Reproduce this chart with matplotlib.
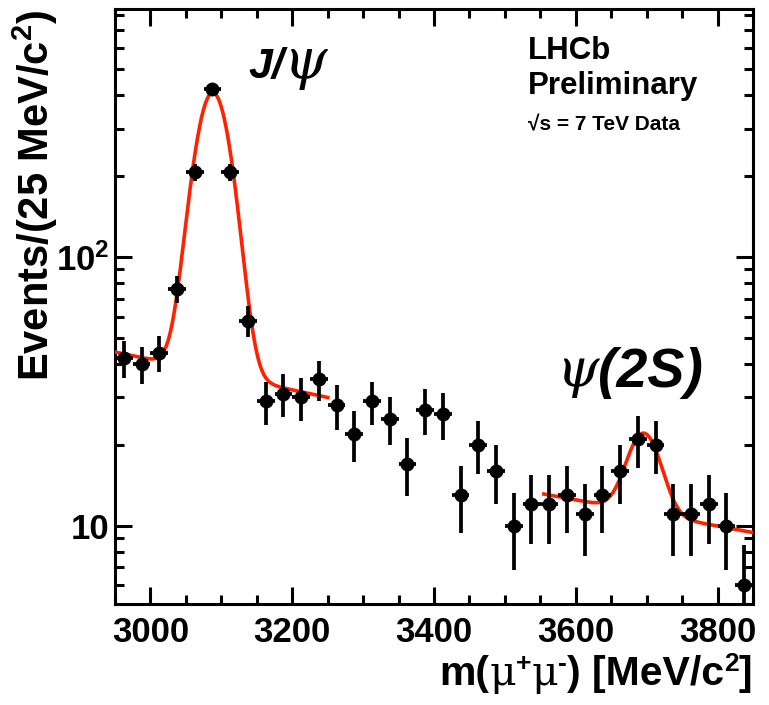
import numpy as np
import matplotlib
matplotlib.use("Agg")
import matplotlib.pyplot as plt
from matplotlib.ticker import MultipleLocator, FixedLocator, NullFormatter

plt.rcParams['font.family'] = ['Liberation Sans', 'DejaVu Sans']
plt.rcParams['font.weight'] = 'bold'
plt.rcParams['mathtext.fontset'] = 'custom'
plt.rcParams['mathtext.rm'] = 'Liberation Sans:bold'
plt.rcParams['mathtext.it'] = 'Liberation Sans:bold:italic'
plt.rcParams['mathtext.bf'] = 'Liberation Sans:bold:italic'
plt.rcParams['mathtext.default'] = 'rm'

# ---- data: dimuon mass histogram, 25 MeV bins from 2950 to 3850 ----
bin_low = 2950.0
bin_width = 25.0
counts = [42, 40, 44, 76, 207, 423, 207, 58,
          29, 31, 30, 35, 28, 22, 29, 25, 17, 27, 26,
          13, 20, 16, 10, 12, 12, 13, 11, 13, 16, 21, 20,
          11, 11, 12, 10, 6]

# ---- fit models (Gaussian + exponential background) ----
jpsi_range = (2950, 3250)
jpsi_bg0, jpsi_slope = 44.3, -0.0013
jpsi_amp, jpsi_mean, jpsi_sigma = 373.0, 3088.0, 23.0

psi2s_range = (3555, 3850)
psi2s_bg0, psi2s_slope = 13.1, -0.00112
psi2s_amp, psi2s_mean, psi2s_sigma = 10.9, 3696.0, 22.0

x_ticks = [3000, 3200, 3400, 3600, 3800]
y_ticks = [10, 100]
y_ticklabels = ['10', r'$10^{2}$']


def model(x, x0, bg0, slope, amp, mean, sigma):
    return bg0 * np.exp(slope * (x - x0)) + amp * np.exp(-0.5 * ((x - mean) / sigma) ** 2)


counts = np.array(counts, dtype=float)
centers = bin_low + bin_width * (np.arange(len(counts)) + 0.5)
yerr = np.sqrt(counts)

W, H = 769, 705
fig = plt.figure(figsize=(W / 100, H / 100), dpi=100)
ax = fig.add_axes([115 / W, 101 / H, 638 / W, 595 / H])
renderer = fig.canvas.get_renderer()

red = '#ff2200'
xj = np.linspace(*jpsi_range, 600)
ax.plot(xj, model(xj, jpsi_range[0], jpsi_bg0, jpsi_slope, jpsi_amp, jpsi_mean, jpsi_sigma),
        color=red, lw=2.6, zorder=3)
xp = np.linspace(*psi2s_range, 600)
ax.plot(xp, model(xp, psi2s_range[0], psi2s_bg0, psi2s_slope, psi2s_amp, psi2s_mean, psi2s_sigma),
        color=red, lw=2.6, zorder=3)

ax.errorbar(centers, counts, yerr=yerr, xerr=bin_width / 2, fmt='o', color='black',
            ms=9, elinewidth=2.7, capsize=0, zorder=4)

ax.set_yscale('log')
ax.set_xlim(2950, 3850)
ax.set_ylim(5.1, 840)

ax.xaxis.set_major_locator(FixedLocator(x_ticks))
ax.xaxis.set_minor_locator(MultipleLocator(50))
ax.set_xticklabels([str(t) for t in x_ticks])
ax.yaxis.set_major_locator(FixedLocator(y_ticks))
ax.set_yticklabels(y_ticklabels)
ax.yaxis.set_minor_locator(FixedLocator([6, 7, 8, 9, 20, 30, 40, 50, 60, 70, 80, 90,
                                         200, 300, 400, 500, 600, 700, 800]))
ax.yaxis.set_minor_formatter(NullFormatter())

ax.tick_params(which='both', direction='in', top=True, right=True, width=2.2)
ax.tick_params(which='major', length=12.5, labelsize=25)
ax.tick_params(which='minor', length=6.5)
ax.tick_params(axis='x', which='major', pad=9)
ax.tick_params(axis='y', which='major', pad=4)
for lab in ax.get_xticklabels() + ax.get_yticklabels():
    lab.set_fontweight('bold')
for s in ax.spines.values():
    s.set_linewidth(2.2)

fig.text(35 / W, 1 - 9 / H, r'Events/(25 MeV/c$^{2}$)', rotation=90,
         ha='center', va='top', fontsize=30, fontweight='bold')


def chain(pieces, x_px, y_px, align='left'):
    """Draw text pieces side by side; each piece = (text, dy_px, kwargs)."""
    objs = []
    for txt, dy, kw in pieces:
        t = fig.text(0, 1 - (y_px - dy) / H, txt, ha='left', va='baseline', **kw)
        objs.append(t)
    widths = [t.get_window_extent(renderer).width for t in objs]
    start = x_px - sum(widths) if align == 'right' else x_px
    cur = start
    for t, w in zip(objs, widths):
        pos = t.get_position()
        t.set_position((cur / W, pos[1]))
        cur += w
    return objs


bold = dict(fontsize=29.5, fontweight='bold')
sup = dict(fontsize=19, fontweight='bold')
mu = dict(fontsize=29.5, fontweight='normal', family='DejaVu Serif')
chain([('m(', 0, bold), ('μ', 0, mu), ('+', 14, sup), ('μ', 0, mu), ('-', 14, sup),
       (') [MeV/c', 0, bold), ('2', 14, sup), (']', 0, bold)], 752, 685, align='right')

# peak labels
chain([('J/', 0, dict(fontsize=31, fontweight='bold', style='italic')),
       ('ψ', 0, dict(fontsize=40, fontweight='normal', style='italic', family='DejaVu Serif'))],
      248, 78)
chain([('ψ', 0, dict(fontsize=39, fontweight='normal', style='italic', family='DejaVu Serif')),
       ('(2S)', 0, dict(fontsize=40, fontweight='bold', style='italic'))],
      556, 387)

fig.text(528 / W, 1 - 59 / H, 'LHCb', fontsize=22.5, fontweight='bold', ha='left', va='baseline')
fig.text(528 / W, 1 - 94 / H, 'Preliminary', fontsize=22.5, fontweight='bold', ha='left', va='baseline')
fig.text(528 / W, 1 - 130 / H, '√s = 7 TeV Data', fontsize=15, fontweight='bold',
         ha='left', va='baseline')

fig.savefig('out.png', dpi=100)
